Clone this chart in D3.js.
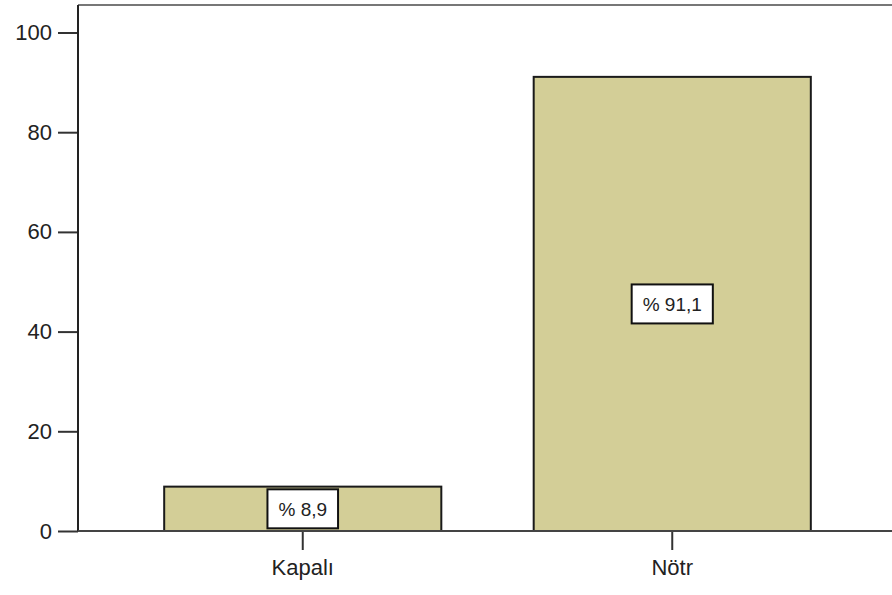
<!DOCTYPE html>
<html>
<head>
<meta charset="utf-8">
<script src="https://cdn.jsdelivr.net/npm/d3@7"></script>
<style>
  html, body { margin: 0; padding: 0; background: #fff; }
  svg { display: block; }
  text { font-family: "Liberation Sans", Arial, sans-serif; fill: #222; }
</style>
</head>
<body>
<svg id="chart" width="892" height="595"></svg>
<script>
// Response categories and their percentages
const categories = ["Kapalı", "Nötr"];
const percents = [8.9, 91.1];
const yTicks = [0, 20, 40, 60, 80, 100];

const svg = d3.select("#chart");
const W = 892;
const axisX = 78, frameTop = 5, baseY = 531;

const y = d3.scaleLinear().domain([0, 100]).range([baseY, baseY - 498.5]);
const x = d3.scaleBand().domain(categories).range([118, 857])
  .paddingInner(0.25).paddingOuter(0.125);

// frame: top border
svg.append("line")
  .attr("x1", axisX).attr("x2", W).attr("y1", frameTop).attr("y2", frameTop)
  .attr("stroke", "#777").attr("stroke-width", 2);

// bars
svg.selectAll("rect.bar").data(categories).enter().append("rect")
  .attr("class", "bar")
  .attr("x", d => x(d))
  .attr("width", x.bandwidth())
  .attr("y", (d, i) => y(percents[i]))
  .attr("height", (d, i) => y(0) - y(percents[i]))
  .attr("fill", "#d3ce97")
  .attr("stroke", "#1a1a1a").attr("stroke-width", 2);

// y axis
const yAxis = d3.axisLeft(y).tickValues(yTicks).tickSize(20).tickPadding(6);
const gy = svg.append("g").attr("transform", `translate(${axisX},0)`).call(yAxis);
gy.select(".domain").remove();
gy.selectAll(".tick line").attr("stroke", "#333").attr("stroke-width", 2);
gy.selectAll(".tick text").attr("font-size", 22).attr("fill", "#222")
  .style("font-family", "'Liberation Sans', Arial, sans-serif");
svg.append("line")
  .attr("x1", axisX).attr("x2", axisX).attr("y1", frameTop).attr("y2", baseY)
  .attr("stroke", "#222").attr("stroke-width", 2);

// x axis
const xAxis = d3.axisBottom(x).tickSize(19).tickPadding(9);
const gx = svg.append("g").attr("transform", `translate(0,${baseY})`).call(xAxis);
gx.select(".domain").remove();
gx.selectAll(".tick line").attr("stroke", "#333").attr("stroke-width", 2);
gx.selectAll(".tick text").attr("font-size", 22).attr("fill", "#222")
  .style("font-family", "'Liberation Sans', Arial, sans-serif");
svg.append("line")
  .attr("x1", axisX).attr("x2", W).attr("y1", baseY).attr("y2", baseY)
  .attr("stroke", "#444").attr("stroke-width", 2);

// value labels in boxes at bar midpoints
const labels = svg.selectAll("g.lbl").data(categories).enter().append("g")
  .attr("class", "lbl")
  .attr("transform", (d, i) =>
    `translate(${x(d) + x.bandwidth() / 2},${y(percents[i] / 2)})`);

labels.each(function(d, i) {
  const g = d3.select(this);
  const t = g.append("text")
    .attr("text-anchor", "middle")
    .attr("dy", "0.36em")
    .attr("font-size", 19)
    .text("% " + String(percents[i]).replace(".", ","));
  const bb = t.node().getBBox();
  const padX = 11, h = 39;
  g.insert("rect", "text")
    .attr("x", bb.x - padX).attr("width", bb.width + 2 * padX)
    .attr("y", -h / 2).attr("height", h)
    .attr("fill", "#fff").attr("stroke", "#111").attr("stroke-width", 2);
});
</script>
</body>
</html>
